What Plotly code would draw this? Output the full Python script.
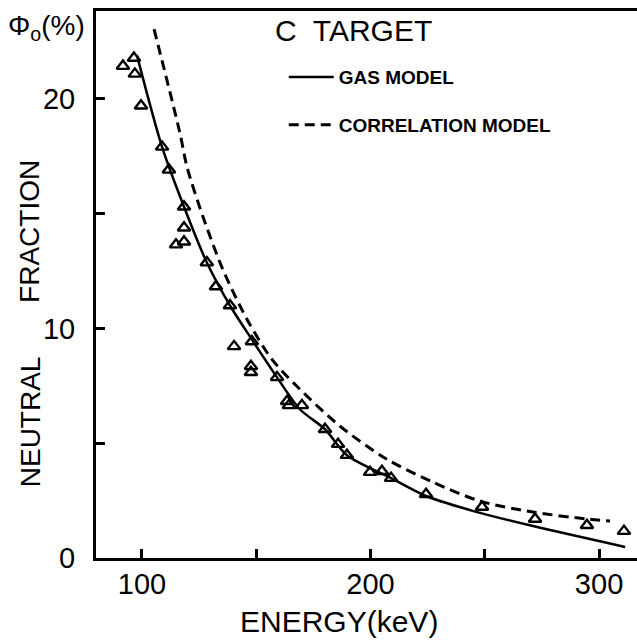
import plotly.graph_objects as go

# Measured data (triangles): energy in keV, neutral fraction in %
energy_data = [91.7, 96.5, 96.9, 99.6, 108.8, 111.8, 118.4, 118.4, 114.9, 118.4,
               128.4, 132.4, 138.5, 140.3, 148.1, 147.7, 147.7, 159.1, 163.5, 164.3,
               170.0, 180.1, 185.8, 189.7, 199.8, 205.0, 209.0, 224.3, 248.8, 272.0,
               294.7, 310.9]
fraction_data = [21.43, 21.78, 21.09, 19.70, 17.91, 16.91, 15.30, 14.39, 13.65, 13.78,
                 12.87, 11.83, 11.00, 9.22, 9.43, 8.35, 8.09, 7.87, 6.83, 6.65,
                 6.65, 5.61, 4.96, 4.48, 3.74, 3.78, 3.48, 2.78, 2.22, 1.70,
                 1.43, 1.17]

# Gas model curve
gas_energy = [97.8, 108.8, 118.4, 128.4, 138.5, 148.1, 159.1, 169.1, 180.1, 189.7,
              209.0, 224.3, 246.6, 271.1, 311.4]
gas_fraction = [21.91, 17.91, 15.30, 12.87, 11.00, 9.52, 7.87, 6.48, 5.61, 4.48,
                3.48, 2.70, 2.00, 1.39, 0.48]

# Correlation model curve
corr_energy = [105.3, 116.6, 119.7, 126.7, 135.4, 146.0, 156.9, 167.8, 186.7, 207.2,
               227.4, 247.9, 271.1, 294.7, 304.8]
corr_fraction = [23.04, 18.52, 17.04, 14.87, 12.57, 10.39, 8.65, 7.48, 5.74, 4.30,
                 3.30, 2.48, 2.00, 1.70, 1.61]

x_tick_vals = [100, 200, 300]
x_tick_text = ["100", "200", "300"]
x_minor_step = 50
y_tick_vals = [0, 10, 20]
y_tick_text = ["0", "10", "20"]
y_minor_step = 5

FONT = "Liberation Sans"
BLACK = "black"

fig = go.Figure()

fig.add_trace(go.Scatter(
    x=gas_energy, y=gas_fraction, mode="lines", name="GAS MODEL",
    line=dict(color=BLACK, width=2.5, shape="spline", smoothing=0.8),
    legend="legend",
))
fig.add_trace(go.Scatter(
    x=corr_energy, y=corr_fraction, mode="lines", name="CORRELATION MODEL",
    line=dict(color=BLACK, width=3, dash="10px,6px", shape="spline", smoothing=0.8),
    legend="legend2",
))
fig.add_trace(go.Scatter(
    x=energy_data, y=fraction_data, mode="markers", showlegend=False,
    marker=dict(symbol="triangle-up-open", size=11, color=BLACK,
                line=dict(color=BLACK, width=2.4)),
))

legend_common = dict(
    xanchor="left", yanchor="middle",
    font=dict(family=FONT, size=19, color=BLACK, weight="bold"),
    bgcolor="rgba(0,0,0,0)", borderwidth=0, itemwidth=45,
)

minor_common = dict(ticks="inside", ticklen=9, tickwidth=2.5, tickcolor=BLACK, showgrid=False)

fig.update_layout(
    width=637, height=642,
    margin=dict(l=96, r=0, t=11, b=84),
    paper_bgcolor="white", plot_bgcolor="white",
    font=dict(family=FONT, color=BLACK),
    legend=dict(x=0.347, y=0.879, **legend_common),
    legend2=dict(x=0.347, y=0.792, **legend_common),
    xaxis=dict(
        range=[79.9, 316.6], showline=True, linewidth=3, linecolor=BLACK, mirror=True,
        ticks="inside", ticklen=9, tickwidth=2.5, tickcolor=BLACK,
        tickvals=x_tick_vals, ticktext=x_tick_text,
        minor=dict(tick0=0, dtick=x_minor_step, **minor_common),
        tickfont=dict(family=FONT, size=29, color=BLACK),
        showgrid=False, zeroline=False, ticklabelstandoff=-2,
    ),
    yaxis=dict(
        range=[0, 23.83], showline=True, linewidth=3, linecolor=BLACK, mirror=False,
        ticks="inside", ticklen=9, tickwidth=2.5, tickcolor=BLACK,
        tickvals=y_tick_vals, ticktext=y_tick_text,
        minor=dict(tick0=0, dtick=y_minor_step, **minor_common),
        tickfont=dict(family=FONT, size=29, color=BLACK),
        showgrid=False, zeroline=False, ticklabelstandoff=12,
    ),
    annotations=[
        dict(text="C\u00a0 TARGET", xref="paper", yref="paper", x=0.327, y=0.965,
             xanchor="left", yanchor="middle", showarrow=False,
             font=dict(family=FONT, size=30, color=BLACK)),
        dict(text="Φ<sub>o</sub>(%)", xref="paper", yref="paper", x=-0.092, y=0.969,
             xanchor="center", yanchor="middle", showarrow=False,
             font=dict(family=FONT, size=28, color=BLACK)),
        dict(text="FRACTION", xref="paper", yref="paper", x=-0.122, y=0.598,
             xanchor="center", yanchor="middle", textangle=-90, showarrow=False,
             font=dict(family=FONT, size=28, color=BLACK)),
        dict(text="NEUTRAL", xref="paper", yref="paper", x=-0.122, y=0.250,
             xanchor="center", yanchor="middle", textangle=-90, showarrow=False,
             font=dict(family=FONT, size=28, color=BLACK)),
        dict(text="ENERGY(keV)", xref="paper", yref="paper", x=0.449, y=-0.117,
             xanchor="center", yanchor="middle", showarrow=False,
             font=dict(family=FONT, size=30, color=BLACK)),
    ],
)

fig.write_html("out.html")
